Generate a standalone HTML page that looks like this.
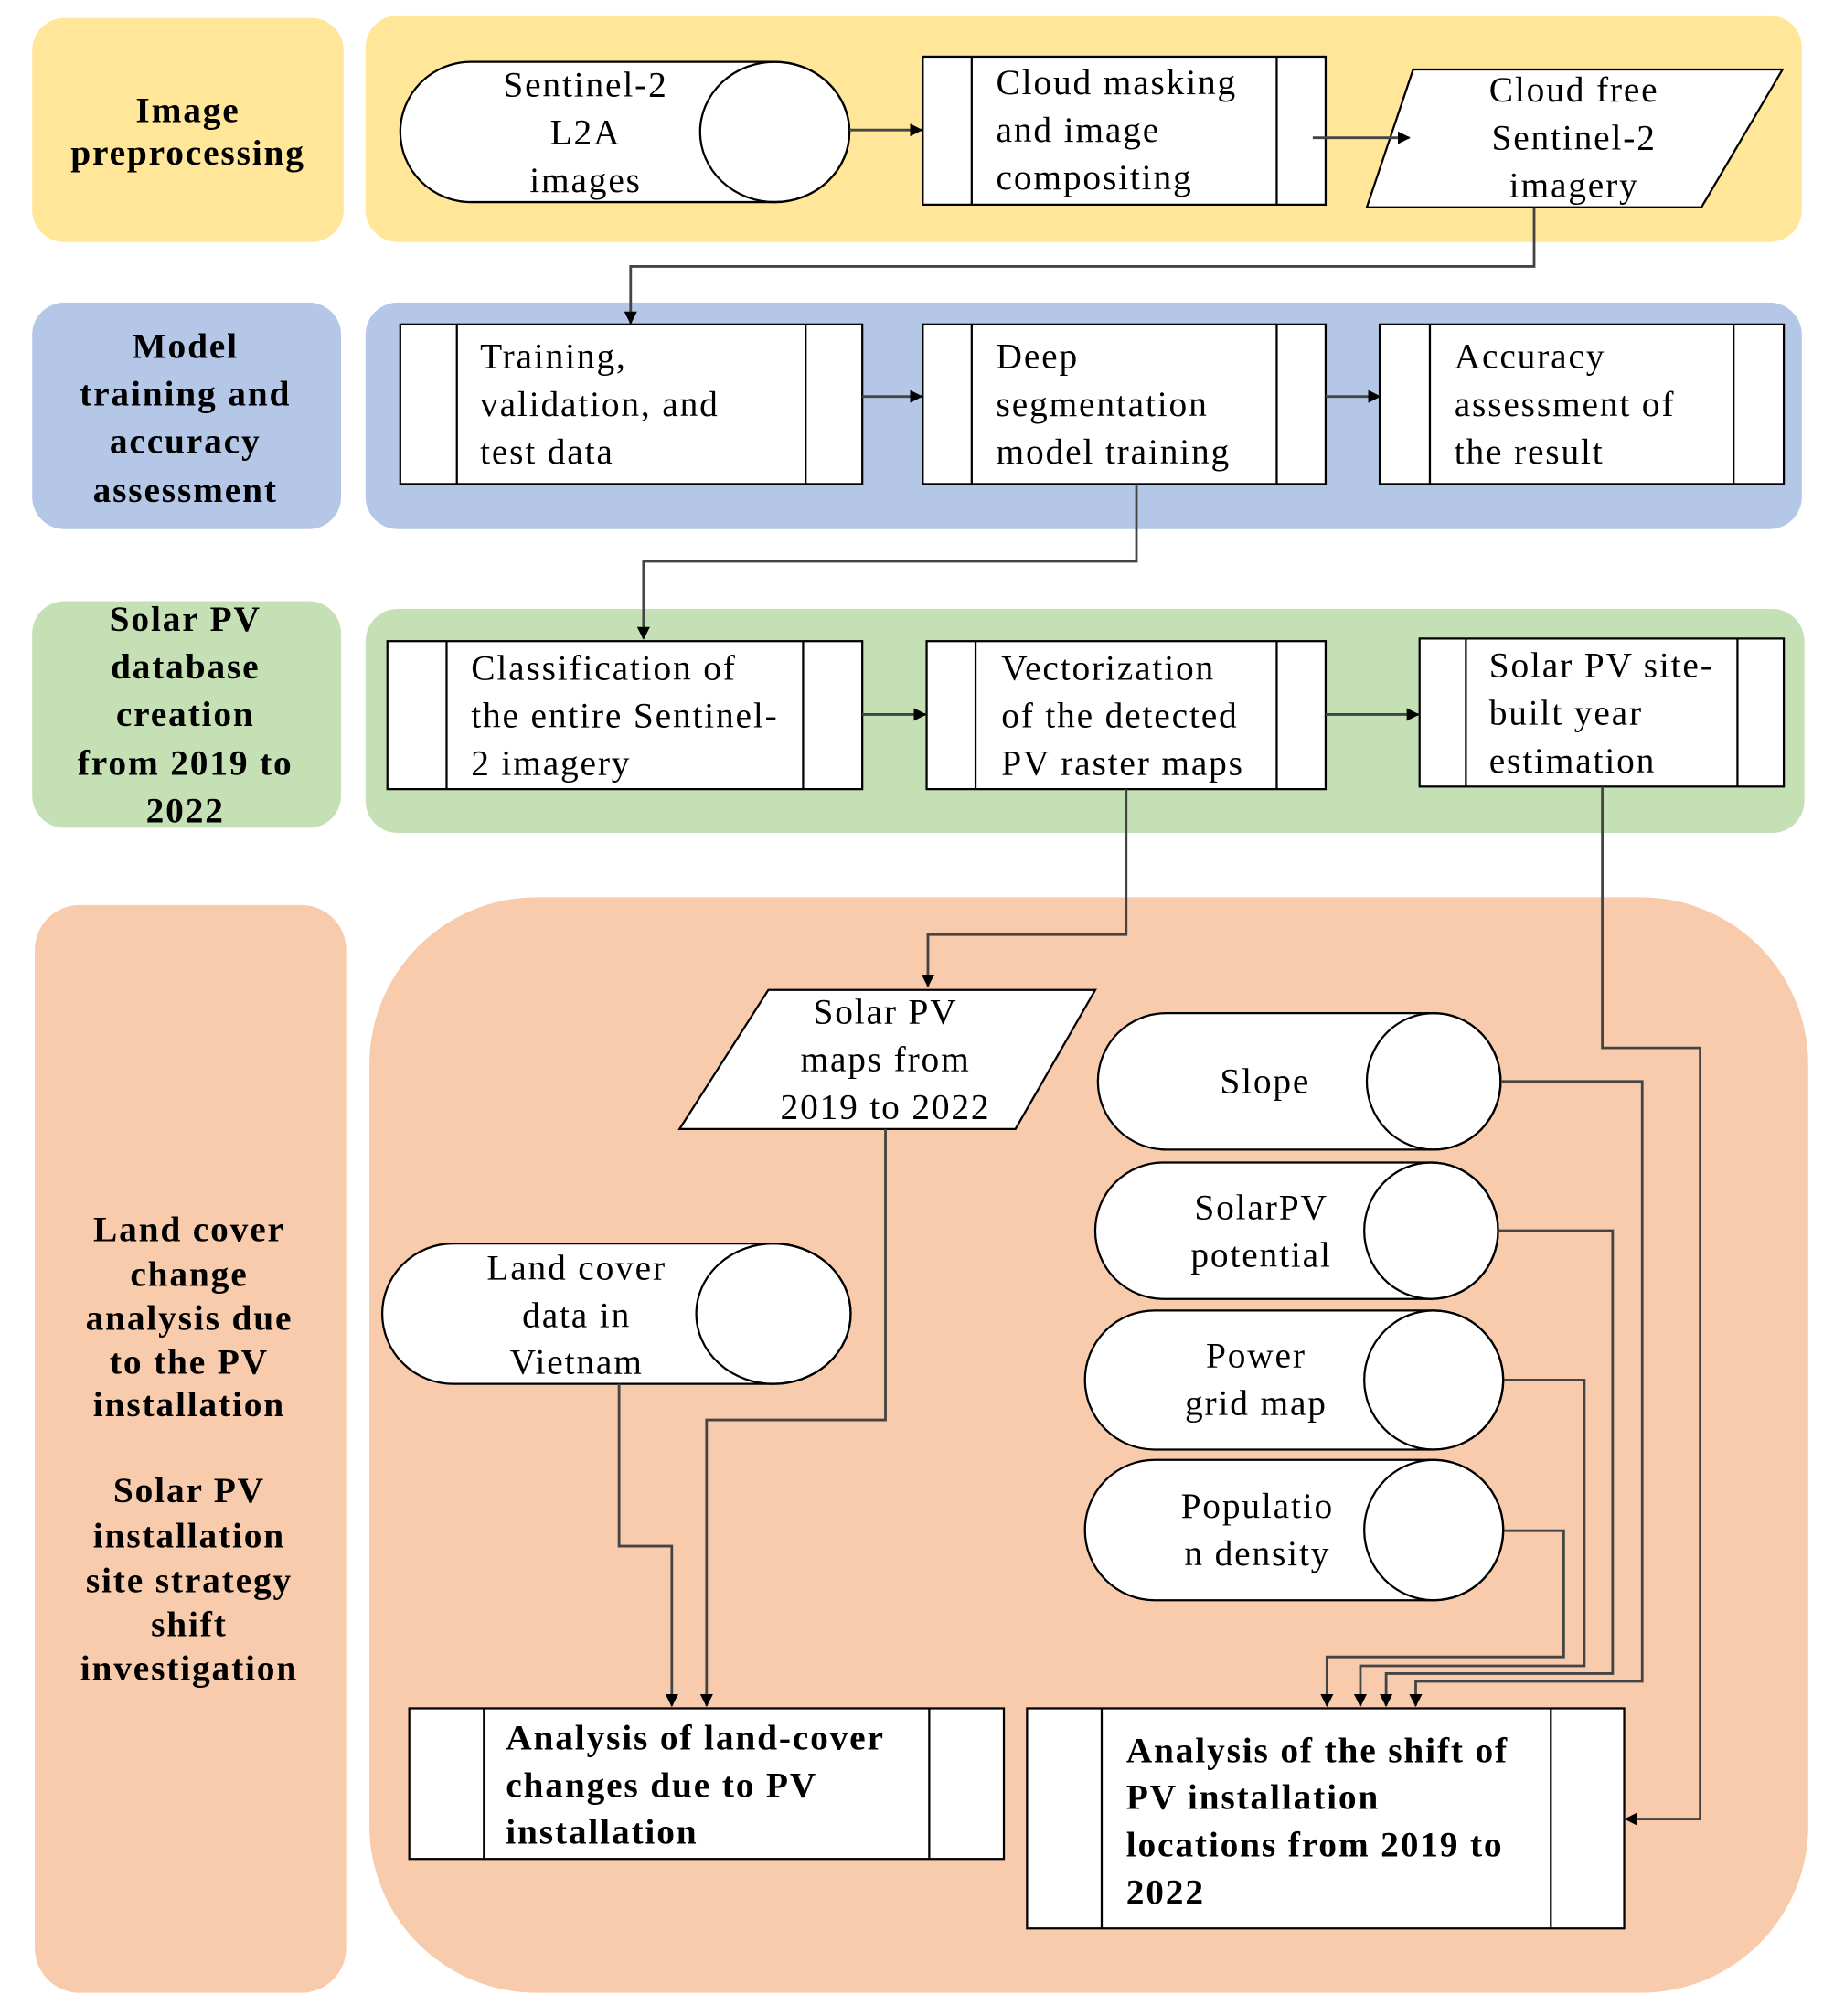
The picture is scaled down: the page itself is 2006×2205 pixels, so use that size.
<!DOCTYPE html>
<html><head><meta charset="utf-8"><style>
html,body{margin:0;padding:0;background:#fff;}
svg{display:block;}
text{font-family:"Liberation Serif",serif;font-size:28px;letter-spacing:1.3px;fill:#000;}
.b{font-weight:bold;}
.s{fill:none;stroke:#000;stroke-width:1.6;}
.w{fill:#fff;stroke:#000;stroke-width:1.6;}
.c{fill:none;stroke:#444;stroke-width:2;}
</style></head><body>
<svg width="2006" height="2205" viewBox="0 0 1425 1566" preserveAspectRatio="none" xmlns="http://www.w3.org/2000/svg">
<defs><marker id="a" markerWidth="10" markerHeight="10" refX="9" refY="5" orient="auto" markerUnits="userSpaceOnUse"><path d="M0,0 L10,5 L0,10 z" fill="#000"/></marker></defs>
<rect x="25" y="14" width="242" height="174" rx="25" fill="#FFE699"/>
<rect x="284" y="12" width="1116" height="176" rx="25" fill="#FFE699"/>
<rect x="25" y="235" width="240" height="176" rx="25" fill="#B4C7E7"/>
<rect x="284" y="235" width="1116" height="176" rx="25" fill="#B4C7E7"/>
<rect x="25" y="467" width="240" height="176" rx="25" fill="#C5E0B4"/>
<rect x="284" y="473" width="1118" height="174" rx="25" fill="#C5E0B4"/>
<rect x="27" y="703" width="242" height="845" rx="35" fill="#F8CBAD"/>
<rect x="287" y="697" width="1118" height="851" rx="130" fill="#F8CBAD"/>
<g class="b" text-anchor="middle">
<text x="146" y="95">Image</text><text x="146" y="128">preprocessing</text>
<text x="144" y="278">Model</text><text x="144" y="315">training and</text><text x="144" y="352">accuracy</text><text x="144" y="390">assessment</text>
<text x="144" y="490">Solar PV</text><text x="144" y="527">database</text><text x="144" y="564">creation</text><text x="144" y="602">from 2019 to</text><text x="144" y="639">2022</text>
<text x="147" y="964">Land cover</text><text x="147" y="999">change</text><text x="147" y="1033">analysis due</text><text x="147" y="1067">to the PV</text><text x="147" y="1100">installation</text>
<text x="147" y="1167">Solar PV</text><text x="147" y="1202">installation</text><text x="147" y="1237">site strategy</text><text x="147" y="1271">shift</text><text x="147" y="1305">investigation</text>
</g>
<path class="w" d="M366,48 L602,48 A58,54.5 0 0 1 602,157 L366,157 A55,54.5 0 0 1 366,48 z"/>
<ellipse class="s" cx="602" cy="102.5" rx="58" ry="54.5"/>
<g text-anchor="middle"><text x="455" y="75">Sentinel-2</text><text x="455" y="112">L2A</text><text x="455" y="149">images</text></g>
<rect class="w" x="717" y="44" width="313" height="115"/><line class="s" x1="755" y1="44" x2="755" y2="159"/><line class="s" x1="992" y1="44" x2="992" y2="159"/>
<text x="774" y="73">Cloud masking</text><text x="774" y="110">and image</text><text x="774" y="147">compositing</text>
<polygon class="w" points="1098,54 1385,54 1322,161 1062,161"/>
<g text-anchor="middle"><text x="1223" y="79">Cloud free</text><text x="1223" y="116">Sentinel-2</text><text x="1223" y="153">imagery</text></g>
<line class="c" x1="660" y1="101" x2="716" y2="101" marker-end="url(#a)"/>
<line class="c" x1="1020" y1="107" x2="1095" y2="107" marker-end="url(#a)"/>
<path class="c" d="M1192,161 V207 H490 V251" marker-end="url(#a)"/>
<rect class="w" x="311" y="252" width="359" height="124"/><line class="s" x1="355" y1="252" x2="355" y2="376"/><line class="s" x1="626" y1="252" x2="626" y2="376"/>
<text x="373" y="286">Training,</text><text x="373" y="323">validation,  and</text><text x="373" y="360">test data</text>
<rect class="w" x="717" y="252" width="313" height="124"/><line class="s" x1="755" y1="252" x2="755" y2="376"/><line class="s" x1="992" y1="252" x2="992" y2="376"/>
<text x="774" y="286">Deep</text><text x="774" y="323">segmentation</text><text x="774" y="360">model training</text>
<rect class="w" x="1072" y="252" width="314" height="124"/><line class="s" x1="1111" y1="252" x2="1111" y2="376"/><line class="s" x1="1347" y1="252" x2="1347" y2="376"/>
<text x="1130" y="286">Accuracy</text><text x="1130" y="323">assessment of</text><text x="1130" y="360">the result</text>
<line class="c" x1="670" y1="308" x2="716" y2="308" marker-end="url(#a)"/>
<line class="c" x1="1030" y1="308" x2="1072" y2="308" marker-end="url(#a)"/>
<path class="c" d="M883,376 V436 H500 V496" marker-end="url(#a)"/>
<rect class="w" x="301" y="498" width="369" height="115"/><line class="s" x1="347" y1="498" x2="347" y2="613"/><line class="s" x1="624" y1="498" x2="624" y2="613"/>
<text x="366" y="528">Classification of</text><text x="366" y="565">the entire Sentinel-</text><text x="366" y="602">2 imagery</text>
<rect class="w" x="720" y="498" width="310" height="115"/><line class="s" x1="758" y1="498" x2="758" y2="613"/><line class="s" x1="992" y1="498" x2="992" y2="613"/>
<text x="778" y="528">Vectorization</text><text x="778" y="565">of the detected</text><text x="778" y="602">PV raster maps</text>
<rect class="w" x="1103" y="496" width="283" height="115"/><line class="s" x1="1139" y1="496" x2="1139" y2="611"/><line class="s" x1="1350" y1="496" x2="1350" y2="611"/>
<text x="1157" y="526">Solar PV site-</text><text x="1157" y="563">built year</text><text x="1157" y="600">estimation</text>
<line class="c" x1="670" y1="555" x2="719" y2="555" marker-end="url(#a)"/>
<line class="c" x1="1030" y1="555" x2="1102" y2="555" marker-end="url(#a)"/>
<path class="c" d="M875,613 V726 H721 V766" marker-end="url(#a)"/>
<polygon class="w" points="597,769 851,769 789,877 528,877"/>
<g text-anchor="middle"><text x="688" y="795">Solar PV</text><text x="688" y="832">maps from</text><text x="688" y="869">2019 to 2022</text></g>
<path class="w" d="M906,787 L1114,787 A52,53 0 0 1 1114,893 L906,893 A53,53 0 0 1 906,787 z"/><ellipse class="s" cx="1114" cy="840" rx="52" ry="53"/>
<text x="983" y="849" text-anchor="middle">Slope</text>
<path class="w" d="M904,903 L1112,903 A52,53 0 0 1 1112,1009 L904,1009 A53,53 0 0 1 904,903 z"/><ellipse class="s" cx="1112" cy="956" rx="52" ry="53"/>
<g text-anchor="middle"><text x="980" y="947">SolarPV</text><text x="980" y="984">potential</text></g>
<path class="w" d="M897,1018 L1114,1018 A54,54 0 0 1 1114,1126 L897,1126 A54,54 0 0 1 897,1018 z"/><ellipse class="s" cx="1114" cy="1072" rx="54" ry="54"/>
<g text-anchor="middle"><text x="976" y="1062">Power</text><text x="976" y="1099">grid map</text></g>
<path class="w" d="M897,1134 L1114,1134 A54,54.5 0 0 1 1114,1243 L897,1243 A54,54.5 0 0 1 897,1134 z"/><ellipse class="s" cx="1114" cy="1188.5" rx="54" ry="54.5"/>
<g text-anchor="middle"><text x="977" y="1179">Populatio</text><text x="977" y="1216">n density</text></g>
<path class="w" d="M352,966 L601,966 A60,54.5 0 0 1 601,1075 L352,1075 A55,54.5 0 0 1 352,966 z"/><ellipse class="s" cx="601" cy="1020.5" rx="60" ry="54.5"/>
<g text-anchor="middle"><text x="448" y="994">Land cover</text><text x="448" y="1031">data in</text><text x="448" y="1067">Vietnam</text></g>
<path class="c" d="M481,1075 V1201 H522 V1325" marker-end="url(#a)"/>
<path class="c" d="M688,877 V1103 H549 V1325" marker-end="url(#a)"/>
<path class="c" d="M1167,840 H1276 V1306 H1100 V1325" marker-end="url(#a)"/>
<path class="c" d="M1165,956 H1253 V1300 H1077 V1325" marker-end="url(#a)"/>
<path class="c" d="M1169,1072 H1231 V1294 H1057 V1325" marker-end="url(#a)"/>
<path class="c" d="M1169,1189 H1215 V1287 H1031 V1325" marker-end="url(#a)"/>
<path class="c" d="M1245,611 V814 H1321 V1413 H1263" marker-end="url(#a)"/>
<rect class="w" x="318" y="1327" width="462" height="117"/><line class="s" x1="376" y1="1327" x2="376" y2="1444"/><line class="s" x1="722" y1="1327" x2="722" y2="1444"/>
<g class="b"><text x="393" y="1359">Analysis of land-cover</text><text x="393" y="1396">changes due to PV</text><text x="393" y="1432">installation</text></g>
<rect class="w" x="798" y="1327" width="464" height="171"/><line class="s" x1="856" y1="1327" x2="856" y2="1498"/><line class="s" x1="1205" y1="1327" x2="1205" y2="1498"/>
<g class="b"><text x="875" y="1369">Analysis of the shift of</text><text x="875" y="1405">PV installation</text><text x="875" y="1442">locations from 2019 to</text><text x="875" y="1479">2022</text></g>
</svg>
</body></html>
